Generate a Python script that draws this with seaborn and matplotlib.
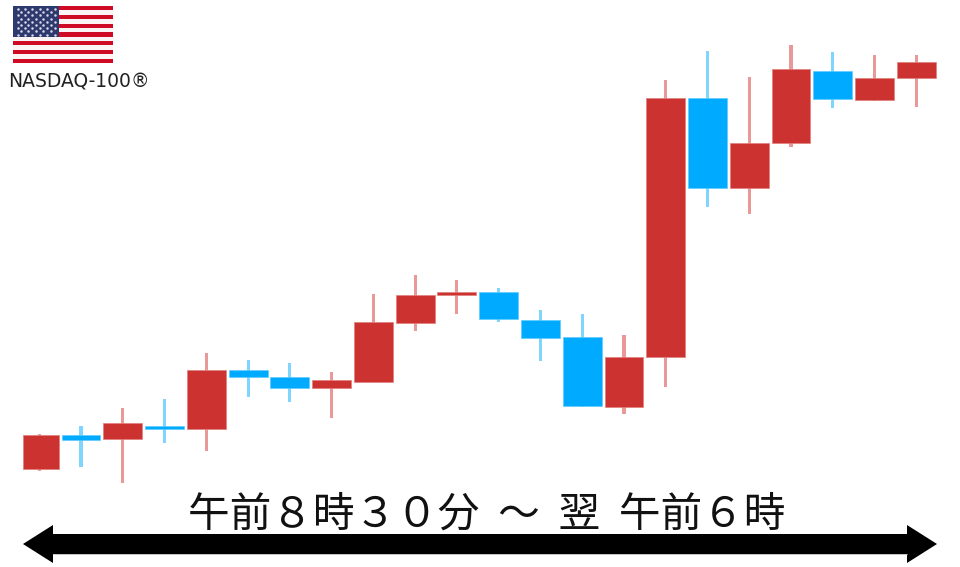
import matplotlib
matplotlib.use('Agg')
import matplotlib.pyplot as plt
from matplotlib.patches import Rectangle, Polygon
import numpy as np
import pandas as pd
import seaborn as sns

# candle values (no scale shown, so units are arbitrary)
body_top = [132, 132, 144, 141, 197, 197, 190, 187, 245, 272, 275,
            275, 247, 230, 210, 469, 469, 424, 498, 496, 489, 505]
body_bot = [98, 127, 128, 138, 138, 190, 179, 179, 185, 244, 272,
            248, 229, 161, 160, 210, 379, 379, 424, 468, 467, 489]
high = [133, 141, 159, 168, 214, 207, 204, 195, 273, 292, 287,
        279, 257, 253, 232, 487, 516, 490, 522, 515, 512, 512]
low = [96, 100, 84, 124, 116, 170, 165, 149, 185, 236, 253,
       245, 206, 160, 153, 180, 360, 353, 420, 459, 466, 460]
kind = ['r', 'b', 'r', 'b', 'r', 'b', 'b', 'r', 'r', 'r', 'r',
        'b', 'b', 'b', 'r', 'r', 'b', 'r', 'r', 'b', 'r', 'r']
index_name = 'NASDAQ-100®'
session_label = '午前８時３０分  ～  翌  午前６時'

RED = '#CB3230'
BLUE = '#00AAFF'
RED_WICK = '#E99A98'
BLUE_WICK = '#7FD5FF'
RED_EDGE = '#E27F7D'
BLUE_EDGE = '#5FCBFF'

sns.set_theme(style='white')
plt.rcParams['font.family'] = ['Noto Sans CJK JP', 'DejaVu Sans']

df = pd.DataFrame({'n': range(len(kind)), 'top': body_top, 'bot': body_bot,
                   'high': high, 'low': low, 'kind': kind})
df['body'] = df['top'] - df['bot']
df['wick'] = df['high'] - df['low']
order = list(df['n'])

fig = plt.figure(figsize=(9.6, 5.67), dpi=100, facecolor='white')
ax = fig.add_axes([0, 0, 1, 1])

# wicks underneath, bodies on top
for k, col, edge, wick_col in [('r', RED, RED_EDGE, RED_WICK), ('b', BLUE, BLUE_EDGE, BLUE_WICK)]:
    sub = df[df['kind'] == k]
    sns.barplot(data=sub, x='n', y='wick', order=order, bottom=sub['low'].values,
                color=wick_col, saturation=1, width=0.075, errorbar=None,
                linewidth=0, ax=ax, zorder=2)
for k, col, edge, wick_col in [('r', RED, RED_EDGE, RED_WICK), ('b', BLUE, BLUE_EDGE, BLUE_WICK)]:
    sub = df[df['kind'] == k]
    sns.barplot(data=sub, x='n', y='body', order=order, bottom=sub['bot'].values,
                color=col, saturation=1, width=0.93, errorbar=None,
                edgecolor=edge, linewidth=0.5, ax=ax, zorder=3)

# first candle is cut off on its left side in the source
first = ax.containers[2].patches[0]
first.set_x(-0.39)
first.set_width(0.86)

ax.set_xlim(-39.3 / 41.76, (960 - 39.3) / 41.76)
ax.set_ylim(0, 567)
ax.axis('off')

# overlay in pixel coords for flag, label, arrow
ov = fig.add_axes([0, 0, 1, 1], facecolor='none')
ov.set_xlim(0, 960)
ov.set_ylim(567, 0)
ov.axis('off')

# flag
fx, fy, fw, fh = 13, 6, 100, 57
sh = fh / 13
ov.add_patch(Rectangle((fx, fy), fw, fh, fc='#FAF4F4', ec='none'))
for i in range(0, 13, 2):
    ov.add_patch(Rectangle((fx, fy + i * sh), fw, sh, fc='#CE0A24', ec='none'))
ov.add_patch(Rectangle((fx, fy), 46, 7 * sh, fc='#2E3A6E', ec='none'))
star_x, star_y = [], []
for r in range(9):
    cols = 6 if r % 2 == 0 else 5
    off = 0 if r % 2 == 0 else 3.5
    for c in range(cols):
        star_x.append(fx + 4.5 + off + c * 7.4)
        star_y.append(fy + 3 + r * 3.2)
ov.scatter(star_x, star_y, s=3.2, color='#D9DCE8', linewidths=0)

ov.text(8, 87, index_name, fontsize=13.5, color='#222222', ha='left', va='baseline',
        family=['DejaVu Sans'])

# session label and double-headed arrow
ov.text(487, 527, session_label, fontsize=30, color='#111111', ha='center', va='baseline')
ov.plot([53, 907], [554.4, 554.4], color='#BBBBBB', lw=0.6)
ov.add_patch(Polygon([(23, 544), (53, 525), (53, 534), (907, 534), (907, 525),
                      (937, 544), (907, 563), (907, 554), (53, 554), (53, 563)],
                     closed=True, fc='black', ec='none'))

fig.savefig('out.png', dpi=100, facecolor='white')
